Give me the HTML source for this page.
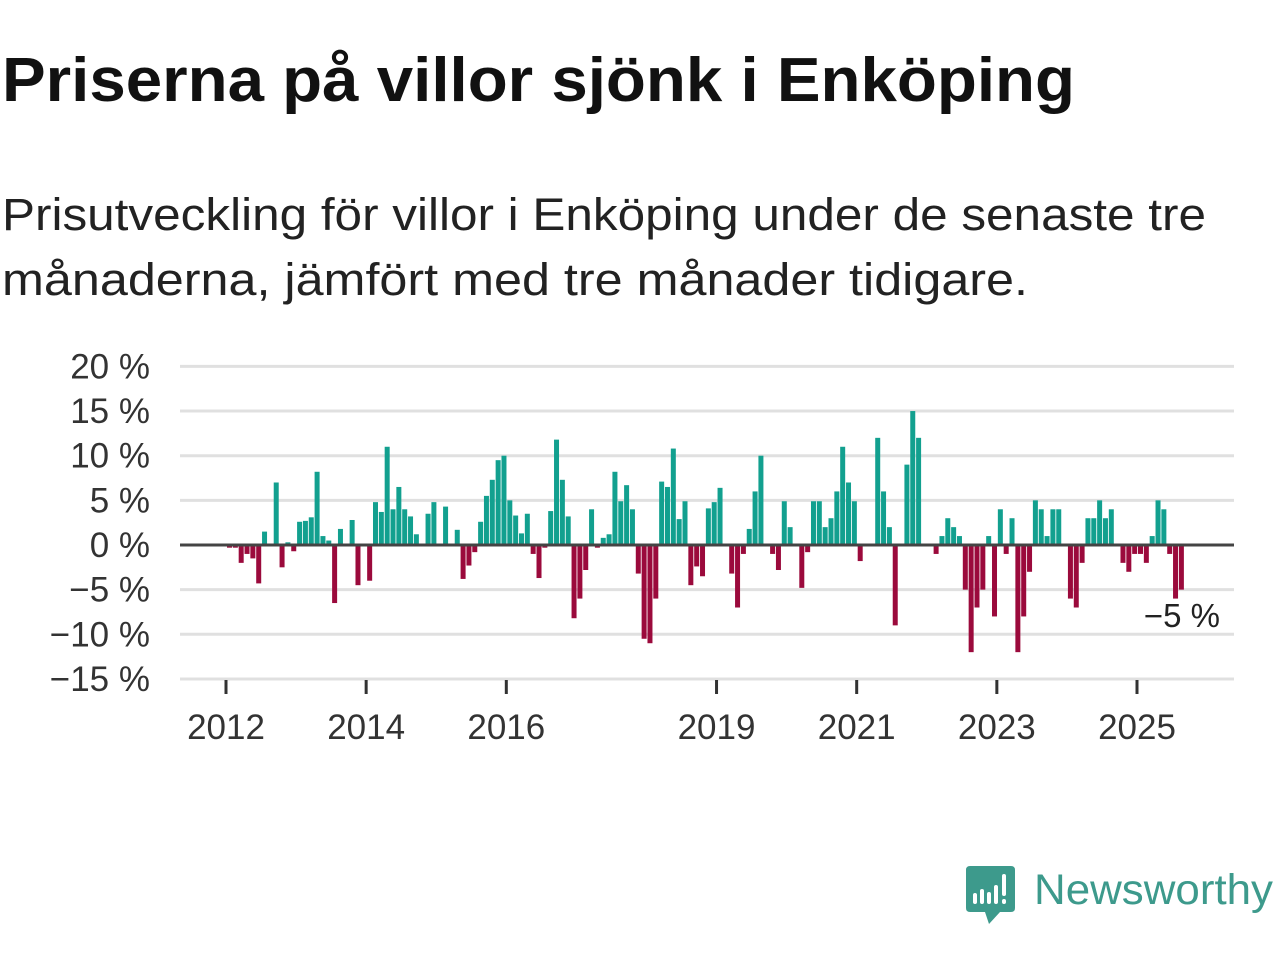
<!DOCTYPE html>
<html><head><meta charset="utf-8"><style>
html,body{margin:0;padding:0;background:#fff;width:1280px;height:960px;overflow:hidden}
svg{display:block;font-family:"Liberation Sans",sans-serif}
</style></head><body>
<svg id="chart" width="1280" height="960" viewBox="0 0 1280 960">
<text x="2" y="101" font-size="62" font-weight="bold" fill="#111" textLength="1073" lengthAdjust="spacingAndGlyphs">Priserna på villor sjönk i Enköping</text>
<text x="2" y="230" font-size="45" fill="#222" textLength="1204" lengthAdjust="spacingAndGlyphs">Prisutveckling för villor i Enköping under de senaste tre</text>
<text x="2" y="295" font-size="45" fill="#222" textLength="1026" lengthAdjust="spacingAndGlyphs">månaderna, jämfört med tre månader tidigare.</text>
<g id="grid"></g><g id="bars"></g><g id="axes"></g>
<text x="1220" y="627" font-size="33" fill="#222" text-anchor="end">−5 %</text>
<g>
<path d="M970 866 H1011 Q1015 866 1015 870 V908 Q1015 912 1011 912 H1000 L989 924 L985 912 H970 Q966 912 966 908 V870 Q966 866 970 866Z" fill="#3d9a8c"/>
<rect x="973" y="893" width="4" height="11" fill="#fff" rx="2"/><rect x="980" y="889" width="4" height="15" fill="#fff" rx="2"/><rect x="987" y="892" width="4" height="12" fill="#fff" rx="2"/><rect x="994" y="885" width="4" height="19" fill="#fff" rx="2"/><rect x="1002" y="874" width="4" height="22" fill="#fff" rx="2"/><rect x="1002" y="899" width="4" height="5" fill="#fff" rx="2"/>
<text x="1034" y="904" font-size="43" fill="#3d9a8c" textLength="239" lengthAdjust="spacingAndGlyphs">Newsworthy</text>
</g>
</svg>
<script>
const yTicks = [20, 15, 10, 5, 0, -5, -10, -15];
const yTickLabels = ["20 %", "15 %", "10 %", "5 %", "0 %", "−5 %", "−10 %", "−15 %"];
const xTickYears = [2012, 2014, 2016, 2019, 2021, 2023, 2025];
const startYear = 2012;
const values = [
-0.3,-0.3,-2,-1,-1.5,-4.3,1.5,0,7,-2.5,0.3,-0.7,2.6,2.7,3.1,8.2,1,0.5,-6.5,1.8,
0,2.8,-4.5,0,-4,4.8,3.7,11,4,6.5,4,3.2,1.2,0,3.5,4.8,0,4.3,0,1.7,
-3.8,-2.3,-0.8,2.6,5.5,7.3,9.5,10,5,3.3,1.3,3.5,-1,-3.7,-0.3,3.8,11.8,7.3,3.2,-8.2,
-6,-2.8,4,-0.3,0.8,1.2,8.2,4.9,6.7,4,-3.2,-10.5,-11,-6,7.1,6.5,10.8,2.9,4.9,-4.5,
-2.4,-3.5,4.1,4.8,6.4,0,-3.2,-7,-1,1.8,6,10,0,-1,-2.8,4.9,2,0,-4.8,-0.8,
4.9,4.9,2,3,6,11,7,4.9,-1.8,0,0,12,6,2,-9,0,9,15,12,0,
0,-1,1,3,2,1,-5,-12,-7,-5,1,-8,4,-1,3,-12,-8,-3,5,4,
1,4,4,0,-6,-7,-2,3,3,5,3,4,0,-2,-3,-1,-1,-2,1,5,
4,-1,-6,-5];
const NS = "http://www.w3.org/2000/svg";
const x0 = 226, pxPerMonth = (1137 - 226) / 156;
function xMonth(i){ return x0 + (i + 0.6) * pxPerMonth; }
function xYear(y){ return x0 + (y - startYear) * 12 * pxPerMonth; }
function yScale(v){ return 545 - v * 8.93; }
function mk(tag, attrs, parent){ const e = document.createElementNS(NS, tag); for (const k in attrs) e.setAttribute(k, attrs[k]); parent.appendChild(e); return e; }
const grid = document.getElementById('grid'), bars = document.getElementById('bars'), axes = document.getElementById('axes');
yTicks.forEach((t, k) => {
  if (t !== 0) {
    const l = mk('line', {x1:180, x2:1234, y1:yScale(t), y2:yScale(t), stroke:'#e0e0e0', 'stroke-width':3}, grid);
    
    
  }
  const tx = mk('text', {x:150, y:yScale(t) + 12, 'font-size':35, fill:'#333', 'text-anchor':'end'}, axes);
  tx.textContent = yTickLabels[k];
  
  
});
values.forEach((v, i) => {
  if (v === 0) return;
  const y = yScale(Math.max(v, 0)), h = Math.abs(yScale(v) - yScale(0));
  const r = mk('rect', {x:xMonth(i) - 2.5, y:y, width:5, height:h, fill: v > 0 ? '#12a08f' : '#9b0a3c'}, bars);
  
  
});
const zl = mk('line', {x1:180, x2:1234, y1:yScale(0), y2:yScale(0), stroke:'#444', 'stroke-width':3}, axes);


xTickYears.forEach(yr => {
  const x = xYear(yr);
  const tk = mk('line', {x1:x, x2:x, y1:680, y2:694, stroke:'#333', 'stroke-width':3}, axes);
  
  
  const tx = mk('text', {x:x, y:739, 'font-size':35, fill:'#333', 'text-anchor':'middle'}, axes);
  tx.textContent = yr;
  
  
});
</script>
</body></html>
